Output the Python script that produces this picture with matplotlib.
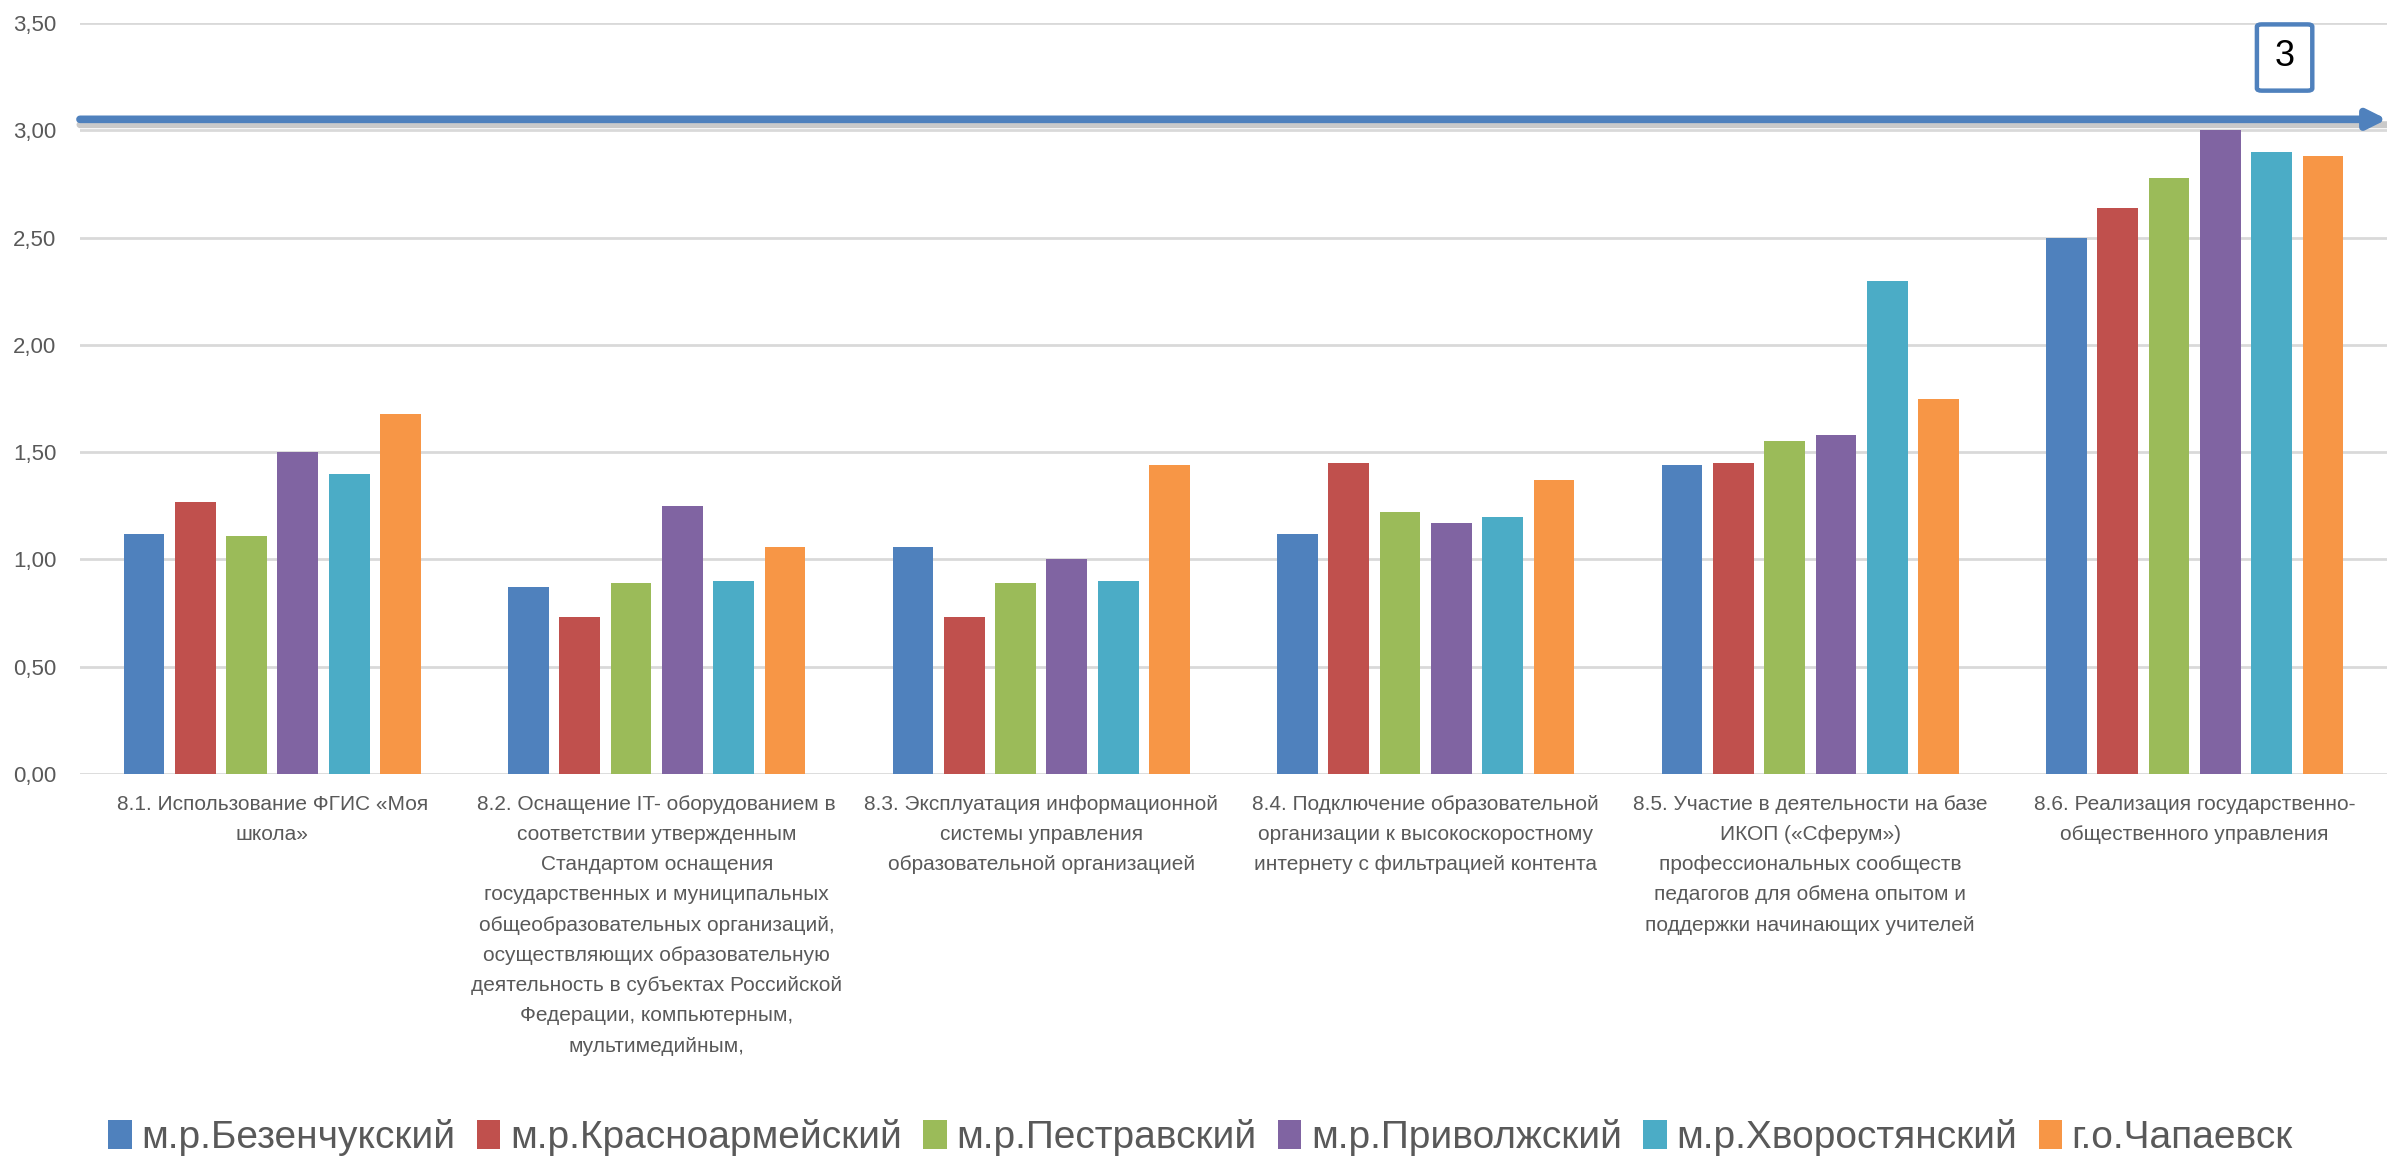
import matplotlib
matplotlib.use("Agg")
import matplotlib.pyplot as plt
import numpy as np
from matplotlib.patches import Patch, FancyBboxPatch

plt.rcParams['font.family'] = ['Liberation Sans', 'DejaVu Sans']

categories = [
    "8.1. Использование ФГИС «Моя\nшкола»",
    "8.2. Оснащение IT- оборудованием в\nсоответствии утвержденным\nСтандартом оснащения\n"
    "государственных и муниципальных\nобщеобразовательных организаций,\n"
    "осуществляющих образовательную\nдеятельность в субъектах Российской\n"
    "Федерации, компьютерным,\nмультимедийным,",
    "8.3. Эксплуатация информационной\nсистемы управления\nобразовательной организацией",
    "8.4. Подключение образовательной\nорганизации к высокоскоростному\nинтернету с фильтрацией контента",
    "8.5. Участие в деятельности на базе\nИКОП («Сферум»)\nпрофессиональных сообществ\n"
    "педагогов для обмена опытом и\nподдержки начинающих учителей",
    "8.6. Реализация государственно-\nобщественного управления",
]

series_names = ["м.р.Безенчукский", "м.р.Красноармейский", "м.р.Пестравский",
                "м.р.Приволжский", "м.р.Хворостянский", "г.о.Чапаевск"]

bezenchuk = [1.12, 0.87, 1.06, 1.12, 1.44, 2.50]
krasnoarm = [1.27, 0.73, 0.73, 1.45, 1.45, 2.64]
pestrav = [1.11, 0.89, 0.89, 1.22, 1.55, 2.78]
privolzh = [1.50, 1.25, 1.00, 1.17, 1.58, 3.00]
khvorost = [1.40, 0.90, 0.90, 1.20, 2.30, 2.90]
chapaevsk = [1.68, 1.06, 1.44, 1.37, 1.75, 2.88]

yticks = [0.0, 0.5, 1.0, 1.5, 2.0, 2.5, 3.0, 3.5]
marker_value = 3

series = [bezenchuk, krasnoarm, pestrav, privolzh, khvorost, chapaevsk]
colors = ['#4F81BD', '#C0504D', '#9BBB59', '#8064A2', '#4BACC6', '#F79646']
grey = '#595959'

fig = plt.figure(figsize=(23.87, 11.62), dpi=100)
ax = fig.add_axes([0.0335, 0.334, 0.9665, 0.646])

x = np.arange(len(categories))
step = 0.1334
for i, (vals, col) in enumerate(zip(series, colors)):
    ax.bar(x + (i - 2.5) * step, vals, width=0.106, color=col, zorder=3)

ax.set_xlim(-0.5, len(categories) - 0.5)
ax.set_ylim(0, 3.5)
ax.set_yticks(yticks)
ax.set_yticklabels([f"{v:.2f}".replace('.', ',') for v in yticks], fontsize=16, color=grey)
ax.set_xticks(x)
ax.set_xticklabels(categories, fontsize=15, color=grey, linespacing=1.75, va='top')
ax.tick_params(axis='both', length=0)
ax.tick_params(axis='y', pad=17)
ax.tick_params(axis='x', pad=15)
ax.grid(axis='y', color='#D9D9D9', lw=2, zorder=0)
for s in ax.spines.values():
    s.set_visible(False)

# arrow at level 3 with a soft shadow
ax.annotate('', xy=(1.0, marker_value + 0.027), xytext=(0.0, marker_value + 0.027),
            xycoords=('axes fraction', 'data'),
            arrowprops=dict(arrowstyle='-', lw=5, color='#BDBDBD', alpha=0.8,
                            shrinkA=0, shrinkB=0), annotation_clip=False, zorder=4)
ax.annotate('', xy=(1.0, marker_value + 0.052), xytext=(0.0, marker_value + 0.052),
            xycoords=('axes fraction', 'data'),
            arrowprops=dict(arrowstyle='-|>', lw=5.5, color='#4F81BD',
                            mutation_scale=28, shrinkA=0, shrinkB=0),
            annotation_clip=False, zorder=5)

# box with the label "3"
box = FancyBboxPatch((0.9455, 0.922), 0.0232, 0.057, boxstyle='round,pad=0,rounding_size=0.002',
                     transform=fig.transFigure, facecolor='white', edgecolor='#4F81BD', lw=3.2,
                     zorder=10)
fig.add_artist(box)
fig.text(0.957, 0.951, str(marker_value), fontsize=26, ha='center', va='center',
         color='black', zorder=11)

handles = [Patch(facecolor=c, edgecolor='none') for c in colors]
fig.legend(handles, series_names, loc='center', bbox_to_anchor=(0.503, 0.021), ncol=6,
           frameon=False, fontsize=28, handlelength=0.6, handleheight=0.75,
           handletextpad=0.25, columnspacing=0.55, labelcolor=grey)

fig.savefig('out.png', dpi=100)
